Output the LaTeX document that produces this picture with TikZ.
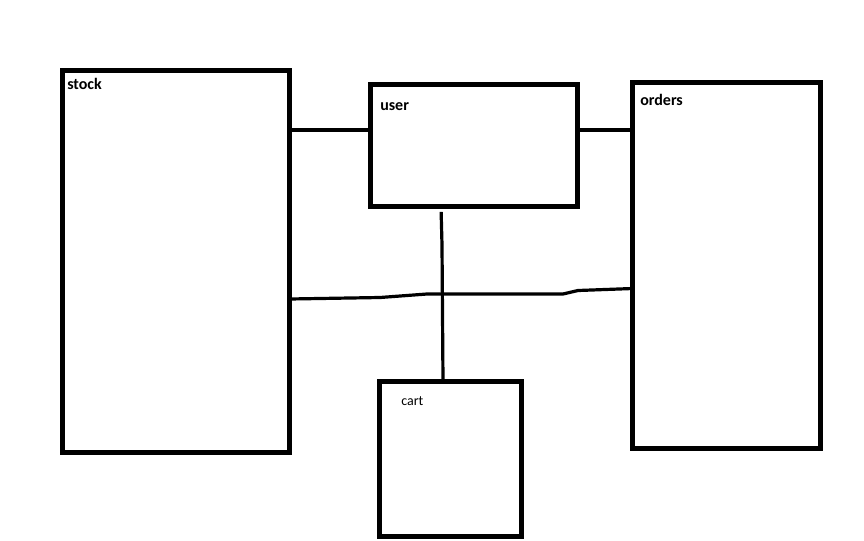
\documentclass[tikz,border=0pt]{standalone}
\usepackage{fontspec}
\setmainfont{Carlito}
\usepackage{tikz}
\usetikzlibrary{positioning,calc}

\begin{document}
\begin{tikzpicture}[x=0.75pt,y=-0.75pt,
    box/.style={rectangle,draw,line width=3.75pt,outer sep=0pt,inner sep=0pt},
    boxlabel/.style={anchor=base west,inner sep=0pt,font=\fontsize{12}{14}\selectfont\bfseries},
    link/.style={line width=2.4pt}]
    \fill[white] (0,0) rectangle (864,540);
    \useasboundingbox (0,0) rectangle (864,540);

    % Boxes
    \node[box,minimum width=170.6pt,minimum height=286.5pt] (stock) at (175.75,261.5) {};
    \node[box,minimum width=155.25pt,minimum height=91.5pt] (user) at (473.5,145.5) {};
    \node[box,minimum width=141pt,minimum height=274.5pt] (orders) at (726.5,265) {};
    \node[box,minimum width=106.5pt,minimum height=116.25pt] (cart) at (450.5,459) {};

    % Labels
    \node[boxlabel] (stocklbl) at (67,89) {stock};
    \node[boxlabel] (userlbl) at (380,110) {user};
    \node[boxlabel] (orderslbl) at (640,105.5) {orders};
    \node[boxlabel,font=\fontsize{10.5}{12}\selectfont] (cartlbl) at (401,405) {cart};

    % Connections
    \draw[link] (stock.east |- 0,130) -- (user.west |- 0,130);
    \draw[link] (user.east |- 0,130) -- (orders.west |- 0,130);
    \draw[link] (stock.east |- 0,299) -- (380,297.5) -- (427,294) -- (563,294)
        -- (578,290.5) -- (orders.west |- 0,288.5);
    \draw[link,shorten <=4pt] (user.south -| 441,0) -- (442,245) -- (cart.north -| 443,0);
\end{tikzpicture}
\end{document}
